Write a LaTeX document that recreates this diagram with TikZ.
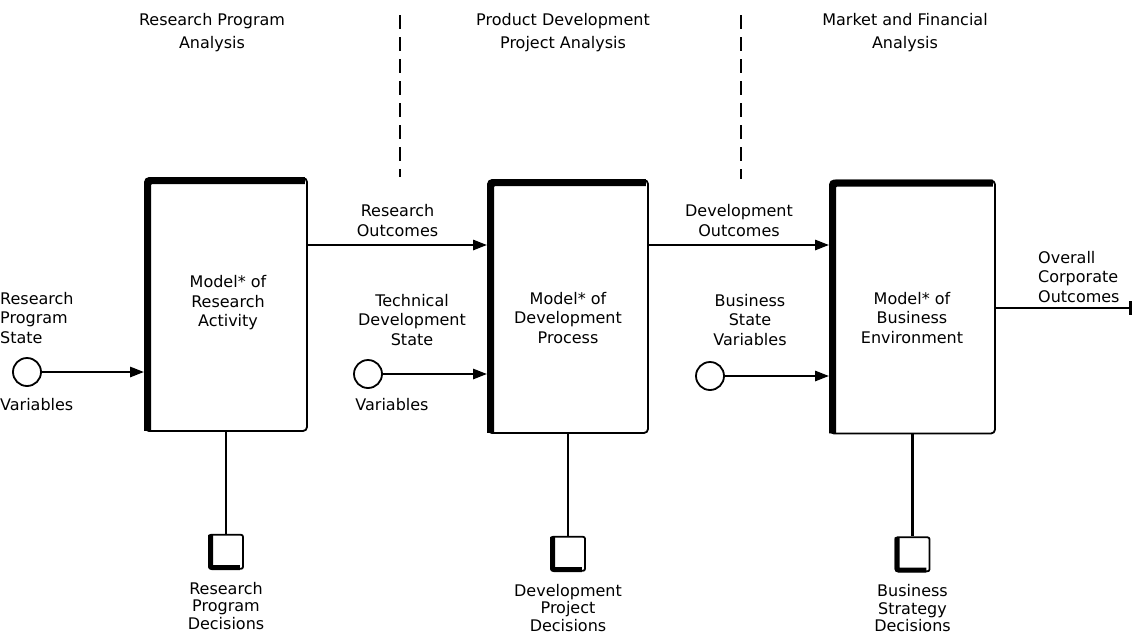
\documentclass[tikz,border=0pt]{standalone}
\usepackage{fontspec}
\setmainfont{DejaVu Sans}
\usetikzlibrary{positioning,arrows.meta}
\begin{document}
\begin{tikzpicture}[x=1pt,y=-1pt,>={Triangle[length=14pt,width=10pt]},
  every node/.style={font=\fontsize{16}{19.5}\selectfont,align=center,inner sep=0pt},
  model/.style={draw,line width=1.8pt,rounded corners=4pt,minimum width=162pt,minimum height=253pt},
  decbox/.style={draw,line width=1.8pt,rounded corners=2pt,minimum width=34pt,minimum height=34pt},
  statevar/.style={draw,circle,line width=1.8pt,minimum size=28pt},
  flow/.style={line width=2.6pt},
  heavy/.style={line width=7pt,rounded corners=4pt},
  divider/.style={line width=2.5pt,dash pattern=on 14pt off 8pt}]
\useasboundingbox (0,0) rectangle (1135,637);
\node[model] (res) at (226,304.5) {};
\node[model,minimum width=160pt] (dev) at (568,306.5) {};
\node[model,minimum width=165pt] (bus) at (912.5,307) {};
\foreach \b in {res,dev,bus}
  \draw[heavy] ([xshift=3.5pt,yshift=1pt]\b.south west) -- ([xshift=3.5pt,yshift=-3.5pt]\b.north west) -- ([xshift=-3pt,yshift=-3.5pt]\b.north east);
\node (restext) at (228,303) {Model* of\\Research\\Activity};
\node (devtext) at (568,318) {Model* of\\Development\\Process};
\node (bustext) at (912,318) {Model* of\\Business\\Environment};
\node[font=\fontsize{16}{23}\selectfont] (hres) at (212,33) {Research Program\\Analysis};
\node[font=\fontsize{16}{23}\selectfont] (hdev) at (563,33) {Product Development\\Project Analysis};
\node[font=\fontsize{16}{23}\selectfont] (hbus) at (905,33) {Market and Financial\\Analysis};
\coordinate (cut1) at (400,15);
\coordinate (cut2) at (741,15);
\draw[divider] (cut1) -- (cut1 |- res.north);
\draw[divider] (cut2) -- (cut2 |- dev.north);
\draw[->,flow] ([yshift=59.5pt]res.east) -- ([yshift=59.5pt]res.east -| dev.west) node[midway,above=7pt] (resout) {Research\\Outcomes};
\draw[->,flow] ([yshift=61.5pt]dev.east) -- ([yshift=61.5pt]dev.east -| bus.west) node[midway,above=7pt] (devout) {Development\\Outcomes};
\node[statevar] (rsv) at (27,372) {};
\node[statevar] (tsv) at (368,374) {};
\node[statevar] (bsv) at (710,376) {};
\draw[->,flow] (rsv) -- (rsv -| res.west);
\draw[->,flow] (tsv) -- (tsv -| dev.west);
\draw[->,flow] (bsv) -- (bsv -| bus.west);
\node[anchor=west,align=left] (rsvlabel) at (0,318) {Research\\Program\\State};
\node[anchor=west] (rsvvar) at (0,405) {Variables};
\node (tsvlabel) at (412,320) {Technical\\Development\\State};
\node (tsvvar) at (392,405) {Variables};
\node (bsvlabel) at (750,320) {Business\\State\\Variables};
\coordinate (overallend) at (1132,308);
\draw[flow,-{Bar[width=14pt,line width=3pt]}] (bus.east |- overallend) -- (overallend);
\node[anchor=west,align=left] (overall) at (1038,277) {Overall\\Corporate\\Outcomes};
\node[decbox,below=102pt of res] (rdec) {};
\node[decbox,below=102pt of dev] (ddec) {};
\node[decbox,below=102pt of bus] (bdec) {};
\foreach \d in {rdec,ddec,bdec}
  \draw[line width=5pt,rounded corners=2pt] ([xshift=2.5pt,yshift=-1pt]\d.north west) -- ([xshift=2.5pt,yshift=2pt]\d.south west) -- ([xshift=-4pt,yshift=2pt]\d.south east);
\draw[flow] (res) -- (rdec);
\draw[flow] (dev) -- (ddec);
\draw[flow] (bus) -- (bdec);
\node[font=\fontsize{16}{17.5}\selectfont,below=12pt of rdec] (rdeclabel) {Research\\Program\\Decisions};
\node[font=\fontsize{16}{17.5}\selectfont,below=12pt of ddec] (ddeclabel) {Development\\Project\\Decisions};
\node[font=\fontsize{16}{17.5}\selectfont,below=12pt of bdec] (bdeclabel) {Business\\Strategy\\Decisions};
\end{tikzpicture}
\end{document}
